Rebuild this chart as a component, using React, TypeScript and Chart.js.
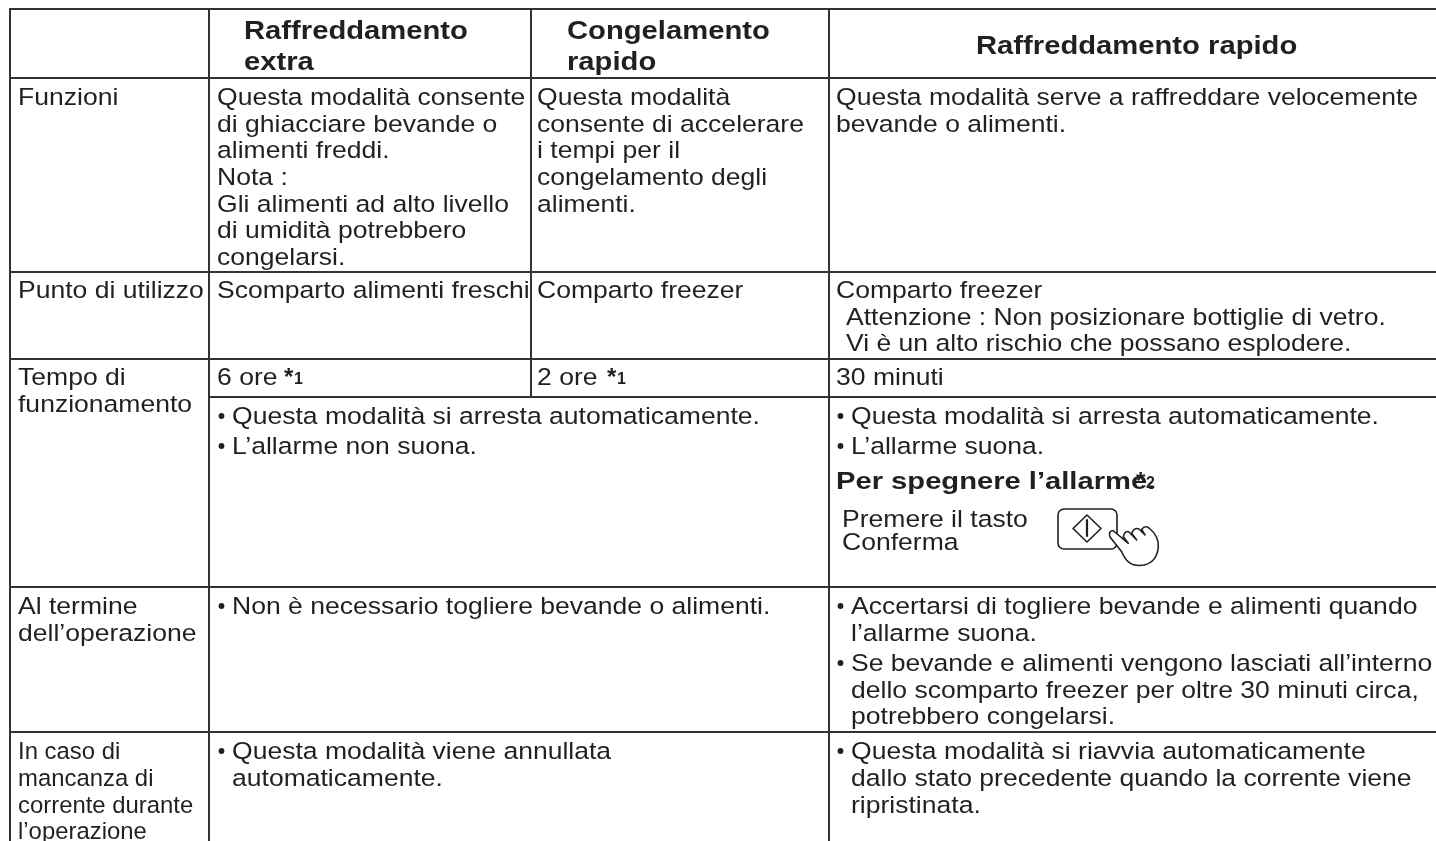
import React, { useEffect, useRef } from "react";
import { Chart, registerables } from "chart.js";

Chart.register(...registerables);

const FONT = '"Liberation Sans", Arial, sans-serif';
const INK = "#231f20";
const B = 24.5;
const S = 1.083;
const H = 26.5;
const HS = 1.102;

type Seg = [number, number, number, number];
const borderSegments: Seg[] = [
  [10, 9, 1436, 9],
  [10, 78, 1436, 78],
  [10, 272, 1436, 272],
  [10, 359, 1436, 359],
  [209, 397, 1436, 397],
  [10, 587, 1436, 587],
  [10, 732, 1436, 732],
  [10, 9, 10, 841],
  [209, 9, 209, 841],
  [531, 9, 531, 397],
  [829, 9, 829, 841],
];

// text, x, baseline, size, bold, horizontal scale
type Line = [string, number, number, number, boolean, number];
const headerLines: Line[] = [
  ["Raffreddamento", 244, 39, H, true, HS],
  ["extra", 244, 70, H, true, HS],
  ["Congelamento", 567, 39, H, true, HS],
  ["rapido", 567, 70, H, true, HS],
  ["Raffreddamento rapido", 976, 54, H, true, HS],
];
const rowLabels: Line[] = [
  ["Funzioni", 18, 105, B, false, S],
  ["Punto di utilizzo", 18, 298, B, false, S],
  ["Tempo di", 18, 385, B, false, S],
  ["funzionamento", 18, 412, B, false, S],
  ["Al termine", 18, 614, B, false, S],
  ["dell’operazione", 18, 641, B, false, S],
  ["In caso di", 18, 759, B, false, 0.975],
  ["mancanza di", 18, 786, B, false, 0.975],
  ["corrente durante", 18, 813, B, false, 0.975],
  ["l’operazione", 18, 839, B, false, 0.975],
];
const extraCoolLines: Line[] = [
  ["Questa modalità consente", 217, 105, B, false, S],
  ["di ghiacciare bevande o", 217, 132, B, false, S],
  ["alimenti freddi.", 217, 158, B, false, S],
  ["Nota :", 217, 185, B, false, S],
  ["Gli alimenti ad alto livello", 217, 212, B, false, S],
  ["di umidità potrebbero", 217, 238, B, false, S],
  ["congelarsi.", 217, 265, B, false, S],
  ["Scomparto alimenti freschi", 217, 298, B, false, S],
  ["6 ore", 217, 385, B, false, S],
];
const fastFreezeLines: Line[] = [
  ["Questa modalità", 537, 105, B, false, S],
  ["consente di accelerare", 537, 132, B, false, S],
  ["i tempi per il", 537, 158, B, false, S],
  ["congelamento degli", 537, 185, B, false, S],
  ["alimenti.", 537, 212, B, false, S],
  ["Comparto freezer", 537, 298, B, false, S],
  ["2 ore", 537, 385, B, false, S],
];
const fastCoolLines: Line[] = [
  ["Questa modalità serve a raffreddare velocemente", 836, 105, B, false, S],
  ["bevande o alimenti.", 836, 132, B, false, S],
  ["Comparto freezer", 836, 298, B, false, S],
  ["Attenzione : Non posizionare bottiglie di vetro.", 846, 324.5, B, false, S],
  ["Vi è un alto rischio che possano esplodere.", 846, 351, B, false, S],
  ["30 minuti", 836, 385, B, false, S],
  ["Per spegnere l’allarme.", 836, 489, B, true, 1.19],
  ["Premere il tasto", 842, 527, B, false, S],
  ["Conferma", 842, 550, B, false, S],
];
const sharedLeftLines: Line[] = [
  ["Questa modalità si arresta automaticamente.", 232, 424, B, false, S],
  ["L’allarme non suona.", 232, 454, B, false, S],
  ["Non è necessario togliere bevande o alimenti.", 232, 614, B, false, S],
  ["Questa modalità viene annullata", 232, 759, B, false, S],
  ["automaticamente.", 232, 786, B, false, S],
];
const sharedRightLines: Line[] = [
  ["Questa modalità si arresta automaticamente.", 851, 424, B, false, S],
  ["L’allarme suona.", 851, 454, B, false, S],
  ["Accertarsi di togliere bevande e alimenti quando", 851, 614, B, false, S],
  ["l’allarme suona.", 851, 641, B, false, S],
  ["Se bevande e alimenti vengono lasciati all’interno", 851, 671, B, false, S],
  ["dello scomparto freezer per oltre 30 minuti circa,", 851, 698, B, false, S],
  ["potrebbero congelarsi.", 851, 724, B, false, S],
  ["Questa modalità si riavvia automaticamente", 851, 759, B, false, S],
  ["dallo stato precedente quando la corrente viene", 851, 786, B, false, S],
  ["ripristinata.", 851, 813, B, false, S],
];
const bullets: [number, number][] = [
  [221.5, 424], [221.5, 454], [221.5, 614], [221.5, 759],
  [840.5, 424], [840.5, 454], [840.5, 614], [840.5, 671], [840.5, 759],
];
// footnote markers: star, number, x, baseline
const footnotes: [string, string, number, number][] = [
  ["*", "1", 284, 385],
  ["*", "1", 607, 385],
  ["*", "2", 1136, 489],
];
const keyIcon = { x: 1058, y: 509, w: 59, h: 40 };

const textPlugin = {
  id: "tableText",
  afterDatasetsDraw(chart: any) {
    const { ctx, scales } = chart;
    const X = (v: number) => scales.x.getPixelForValue(v);
    const Y = (v: number) => scales.y.getPixelForValue(v);
    ctx.save();
    ctx.fillStyle = INK;
    ctx.textBaseline = "alphabetic";
    ctx.textAlign = "left";
    const all = [
      ...headerLines, ...rowLabels, ...extraCoolLines, ...fastFreezeLines,
      ...fastCoolLines, ...sharedLeftLines, ...sharedRightLines,
    ];
    for (const [t, x, y, size, bold, sx] of all) {
      ctx.save();
      ctx.translate(X(x), Y(y));
      ctx.scale(sx, 1);
      ctx.font = `${bold ? "bold " : ""}${size}px ${FONT}`;
      ctx.fillText(t, 0, 0);
      ctx.restore();
    }
    for (const [bx, by] of bullets) {
      ctx.beginPath();
      ctx.arc(X(bx), Y(by) - 8, 2.9, 0, Math.PI * 2);
      ctx.fill();
    }
    for (const [star, num, fx, fy] of footnotes) {
      ctx.font = `bold 24px ${FONT}`;
      ctx.fillText(star, X(fx), Y(fy));
      ctx.font = `bold 16px ${FONT}`;
      ctx.fillText(num, X(fx) + 10, Y(fy) - 1);
    }
    // key and hand icon
    const kx = X(keyIcon.x), ky = Y(keyIcon.y);
    const P = (dx: number, dy: number): [number, number] => [kx + dx, ky + dy];
    ctx.strokeStyle = INK;
    ctx.lineWidth = 1.6;
    ctx.lineJoin = "round";
    ctx.lineCap = "round";
    ctx.fillStyle = "#fff";
    ctx.beginPath();
    ctx.roundRect(kx, ky, keyIcon.w, keyIcon.h, 6);
    ctx.stroke();
    ctx.beginPath();
    ctx.moveTo(...P(29, 6)); ctx.lineTo(...P(43, 19.5)); ctx.lineTo(...P(29, 33)); ctx.lineTo(...P(15, 19.5)); ctx.closePath();
    ctx.stroke();
    ctx.lineWidth = 2.2;
    ctx.beginPath();
    ctx.moveTo(...P(29, 11)); ctx.lineTo(...P(29, 27));
    ctx.stroke();
    ctx.lineWidth = 1.6;
    ctx.beginPath();
    ctx.moveTo(...P(63.7, 42.7));
    ctx.lineTo(...P(52, 28));
    ctx.quadraticCurveTo(...P(50, 22), ...P(55, 21.5));
    ctx.lineTo(...P(70.3, 34.3));
    ctx.lineTo(...P(65.3, 27.7));
    ctx.quadraticCurveTo(...P(67, 21), ...P(71, 23));
    ctx.lineTo(...P(78.7, 31));
    ctx.lineTo(...P(73.7, 24.3));
    ctx.quadraticCurveTo(...P(76, 18), ...P(81, 20));
    ctx.lineTo(...P(87, 26));
    ctx.lineTo(...P(83.7, 20.3));
    ctx.quadraticCurveTo(...P(87, 16), ...P(91, 19));
    ctx.quadraticCurveTo(...P(101, 27), ...P(100.3, 38));
    ctx.quadraticCurveTo(...P(99, 53), ...P(86, 56));
    ctx.quadraticCurveTo(...P(70, 59), ...P(63.7, 42.7));
    ctx.fill();
    ctx.stroke();
    ctx.restore();
  },
};

export default function App() {
  const ref = useRef<HTMLCanvasElement>(null);
  useEffect(() => {
    document.body.style.margin = "0";
    document.body.style.background = "#fff";
    const chart = new Chart(ref.current!, {
      type: "scatter",
      data: {
        datasets: borderSegments.map(([x1, y1, x2, y2]) => ({
          data: [{ x: x1, y: y1 }, { x: x2, y: y2 }],
          showLine: true,
          borderColor: "#333333",
          borderWidth: 2,
          pointRadius: 0,
          borderCapStyle: "square",
        })),
      } as any,
      options: {
        responsive: false,
        animation: false,
        layout: { padding: 0 },
        plugins: { legend: { display: false }, tooltip: { enabled: false } },
        scales: {
          x: { type: "linear", display: false, min: 0, max: 1436 },
          y: { type: "linear", display: false, min: 0, max: 841, reverse: true },
        },
      },
      plugins: [textPlugin],
    });
    return () => chart.destroy();
  }, []);
  return <canvas ref={ref} width={1436} height={841} style={{ display: "block" }} />;
}
